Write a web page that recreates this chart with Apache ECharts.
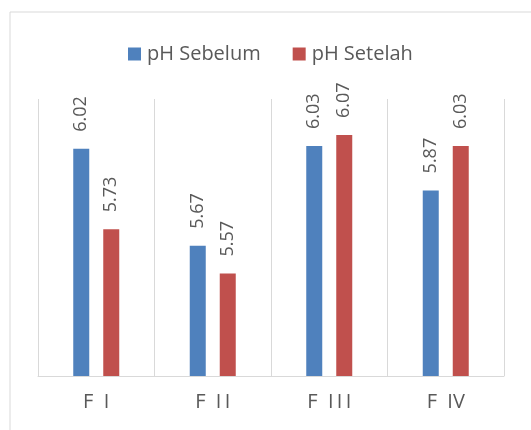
<!DOCTYPE html>
<html>
<head>
<meta charset="utf-8">
<script src="https://cdn.jsdelivr.net/npm/echarts@6/dist/echarts.min.js"></script>
<style>html,body{margin:0;padding:0;background:#fff;}#c{width:531px;height:430px;}</style>
</head>
<body>
<div id="c"></div>
<script>
var categories = ['F  I', 'F  I\u2009I', 'F  I\u2009I\u2009I', 'F  IV'];
var seriesNames = ['pH Sebelum', 'pH Setelah'];
var phSebelum = [6.02, 5.67, 6.03, 5.87];
var phSetelah = [5.73, 5.57, 6.07, 6.03];
var titleText = 'Pengujian pH Sediaan yang Diuji';

var chart = echarts.init(document.getElementById('c'), null, {renderer: 'canvas'});
var font = '"Open Sans", sans-serif';
var labelStyle = {
  show: true, position: 'top', rotate: 90, align: 'left', verticalAlign: 'middle',
  distance: 17, color: '#595959', fontSize: 18, fontFamily: font,
  formatter: function (p) { return p.value.toFixed(2); }
};
chart.setOption({
  animation: false,
  color: ['#4f81bd', '#c0504d'],
  graphic: [
    {type: 'rect', left: 7.5, top: 9.5, shape: {x: 0, y: 0, width: 600, height: 500},
     style: {fill: 'none', stroke: '#d9d9d9', lineWidth: 1}, z: -1},
    {type: 'text', left: 4, top: -20,
     style: {text: titleText, font: 'bold 20px "Liberation Serif", serif', fill: '#000'}}
  ],
  legend: {
    left: 123, top: 39, itemWidth: 13, itemHeight: 13, itemGap: 32,
    icon: 'rect',
    textStyle: {color: '#595959', fontSize: 20, fontFamily: font, padding: [0, 0, 0, 1]},
    data: seriesNames
  },
  grid: {left: 38, right: 27, top: 99, bottom: 54},
  xAxis: {
    type: 'category', data: categories,
    axisLine: {lineStyle: {color: '#d9d9d9', width: 1}},
    axisTick: {show: false},
    splitLine: {show: true, lineStyle: {color: '#d9d9d9', width: 1}},
    axisLabel: {color: '#595959', fontSize: 20, fontFamily: font, margin: 16}
  },
  yAxis: {
    type: 'value', min: 5.2, max: 6.2, interval: 0.2, show: false,
    splitLine: {show: false}
  },
  series: [
    {name: seriesNames[0], type: 'bar', data: phSebelum, barWidth: 16, barGap: '87.5%', label: labelStyle},
    {name: seriesNames[1], type: 'bar', data: phSetelah, barWidth: 16, barGap: '87.5%', label: labelStyle}
  ]
});
</script>
</body>
</html>
